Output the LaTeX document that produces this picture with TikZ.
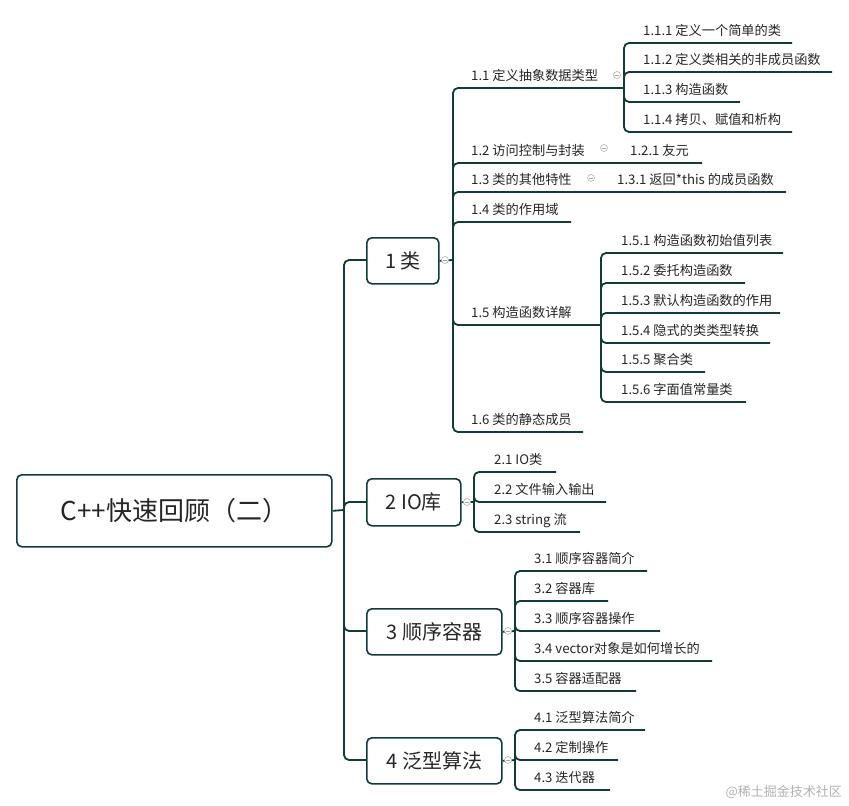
\documentclass[tikz,border=0pt]{standalone}
\usepackage{fontspec}
\setmainfont{Noto Sans CJK SC}
\begin{document}
\begin{tikzpicture}[x=1pt,y=-1pt,
  ln/.style={draw=lc,line width=1.8pt,rounded corners=5pt},
  lab/.style={anchor=base west,inner sep=0pt,font=\fontsize{13.2}{15}\selectfont,text=black!85},
  box/.style={draw=lc,line width=1.6pt,rounded corners=5pt,anchor=north west,font=\fontsize{20}{22}\selectfont,text=black!85},
  col/.style={circle,draw=gray!60,line width=0.6pt,minimum size=7pt,inner sep=0pt,fill=white,
    path picture={\draw[gray!70,line width=0.6pt] ([xshift=-2pt]path picture bounding box.center)--([xshift=2pt]path picture bounding box.center);}}]
\definecolor{lc}{HTML}{123B35}
\useasboundingbox (0,0) rectangle (849,806);
% root and main boxes
\node[box,minimum width=315pt,minimum height=72pt,font=\fontsize{26}{28}\selectfont] (root) at (16,474) {C++快速回顾（二）};
\node[box,minimum width=72pt,minimum height=46pt] (b1) at (366,237) {1 类};
\node[box,minimum width=94pt,minimum height=47pt] (b2) at (366,478) {2 IO库};
\node[box,minimum width=135pt,minimum height=46pt] (b3) at (366,608) {3 顺序容器};
\node[box,minimum width=135pt,minimum height=46pt] (b4) at (366,737) {4 泛型算法};
\coordinate (ms) at (344,510);
\draw[ln] (root.east) -- (ms);
\foreach \b/\y in {b1/260,b2/502,b3/631,b4/760}{\draw[ln] (ms) |- (366,\y);}
% group 1
\coordinate (s1) at (453,260);
\draw[ln] (b1.east) -- (s1);
\foreach \n/\y/\e/\t in {11/88/623/{1.1 定义抽象数据类型},12/163/702/{1.2 访问控制与封装},13/192/786/{1.3 类的其他特性},14/222/571/{1.4 类的作用域},15/325/601/{1.5 构造函数详解},16/432/583/{1.6 类的静态成员}}{
  \coordinate (e\n) at (\e,\y);
  \draw[ln] (s1) |- (e\n);
  \node[lab] (t\n) at (471,\y-8) {\t};}
\node[lab] (t121) at (630,155) {1.2.1 友元};
\node[lab] (t131) at (617,184) {1.3.1 返回*this 的成员函数};
\coordinate (s11) at (624,88);
\foreach \n/\y/\e/\t in {111/43/792/{1.1.1 定义一个简单的类},112/72/832/{1.1.2 定义类相关的非成员函数},113/102/740/{1.1.3 构造函数},114/132/792/{1.1.4 拷贝、赋值和析构}}{
  \coordinate (e\n) at (\e,\y);
  \draw[ln] (s11) |- (e\n);
  \node[lab] (t\n) at (643,\y-8) {\t};}
\coordinate (s15) at (601,325);
\foreach \n/\y/\e/\t in {151/253/783/{1.5.1 构造函数初始值列表},152/283/745/{1.5.2 委托构造函数},153/313/780/{1.5.3 默认构造函数的作用},154/343/770/{1.5.4 隐式的类类型转换},155/372/705/{1.5.5 聚合类},156/402/746/{1.5.6 字面值常量类}}{
  \coordinate (e\n) at (\e,\y);
  \draw[ln] (s15) |- (e\n);
  \node[lab] (t\n) at (621,\y-8) {\t};}
% group 2
\coordinate (s2) at (474,502);
\draw[ln] (b2.east) -- (s2);
\foreach \n/\y/\e/\t in {21/472/556/{2.1 IO类},22/502/606/{2.2 文件输入输出},23/532/580/{2.3 string 流}}{
  \coordinate (e\n) at (\e,\y);
  \draw[ln] (s2) |- (e\n);
  \node[lab] (t\n) at (494,\y-8) {\t};}
% group 3
\coordinate (s3) at (515,631);
\draw[ln] (b3.east) -- (s3);
\foreach \n/\y/\e/\t in {31/571/647/{3.1 顺序容器简介},32/601/608/{3.2 容器库},33/631/660/{3.3 顺序容器操作},34/661/712/{3.4 vector对象是如何增长的},35/691/636/{3.5 容器适配器}}{
  \coordinate (e\n) at (\e,\y);
  \draw[ln] (s3) |- (e\n);
  \node[lab] (t\n) at (534,\y-8) {\t};}
% group 4
\coordinate (s4) at (515,760);
\draw[ln] (b4.east) -- (s4);
\foreach \n/\y/\e/\t in {41/730/645/{4.1 泛型算法简介},42/760/618/{4.2 定制操作},43/790/610/{4.3 迭代器}}{
  \coordinate (e\n) at (\e,\y);
  \draw[ln] (s4) |- (e\n);
  \node[lab] (t\n) at (534,\y-8) {\t};}
% collapse markers
\foreach \x/\y [count=\i] in {445/260,617/75,604/148,591/178,467/502,508/631,508/760}{
  \node[col] (c\i) at (\x,\y) {};}
% watermark
\node[anchor=base east,inner sep=0pt,font=\fontsize{13}{15}\selectfont,text=gray!60] (wm) at (842,796) {@稀土掘金技术社区};
\end{tikzpicture}
\end{document}
